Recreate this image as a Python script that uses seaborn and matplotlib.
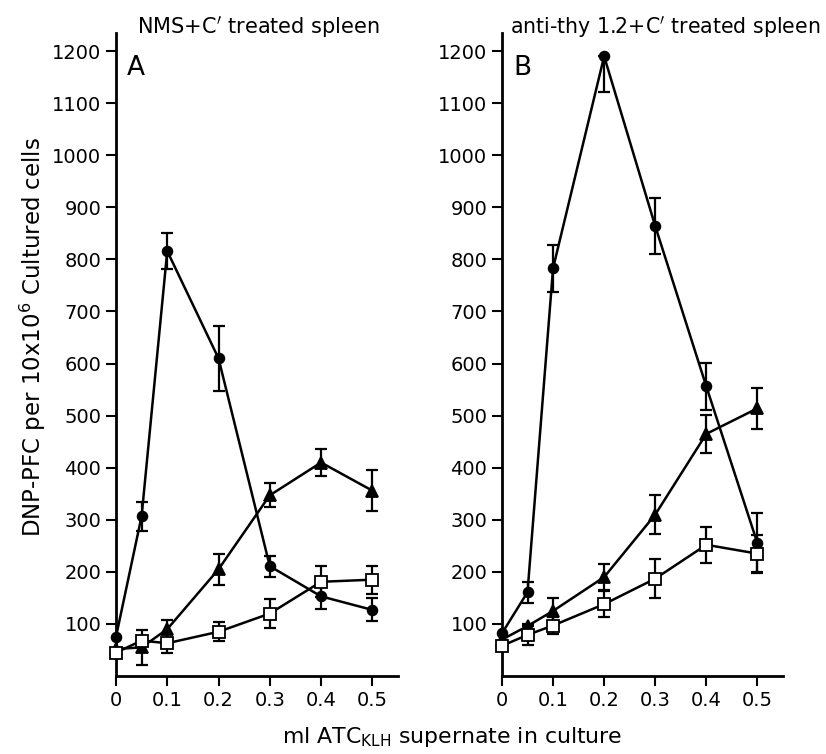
import numpy as np
import pandas as pd
import matplotlib
matplotlib.use("Agg")
import matplotlib.pyplot as plt
import seaborn as sns

sns.set_theme(style="ticks")
plt.rcParams['font.family'] = ['DejaVu Sans']
plt.rcParams['text.color'] = 'black'
plt.rcParams['xtick.color'] = 'black'
plt.rcParams['ytick.color'] = 'black'
plt.rcParams['axes.labelcolor'] = 'black'

x_vals = [0, 0.05, 0.1, 0.2, 0.3, 0.4, 0.5]

# Panel A: NMS + C' treated spleen
a_circle = [75, 307, 816, 610, 211, 153, 127]
a_circle_err = [0, 28, 35, 62, 20, 25, 22]
a_tri = [52, 55, 90, 205, 347, 410, 356]
a_tri_err = [0, 33, 17, 30, 23, 25, 40]
a_sq = [45, 68, 63, 85, 120, 181, 185]
a_sq_err = [0, 0, 18, 18, 28, 30, 27]

# Panel B: anti-thy 1.2 + C' treated spleen
b_circle = [82, 161, 783, 1190, 864, 556, 255]
b_circle_err_lo = [0, 20, 45, 68, 53, 45, 58]
b_circle_err_hi = [0, 20, 45, 0, 53, 45, 58]
b_tri = [70, 96, 125, 190, 310, 465, 514]
b_tri_err = [0, 0, 25, 25, 37, 37, 40]
b_sq = [58, 79, 97, 138, 187, 252, 235]
b_sq_err = [0, 20, 17, 25, 38, 35, 35]

y_ticks = [100, 200, 300, 400, 500, 600, 700, 800, 900, 1000, 1100, 1200]
x_ticks = [0, 0.1, 0.2, 0.3, 0.4, 0.5]
x_ticklabels = ["0", "0.1", "0.2", "0.3", "0.4", "0.5"]

panels = [
    ("A", "NMS+C$'$ treated spleen",
     a_circle, [a_circle_err, a_circle_err], a_tri, [a_tri_err, a_tri_err], a_sq, [a_sq_err, a_sq_err]),
    ("B", "anti-thy 1.2+C$'$ treated spleen",
     b_circle, [b_circle_err_lo, b_circle_err_hi], b_tri, [b_tri_err, b_tri_err], b_sq, [b_sq_err, b_sq_err]),
]

fig = plt.figure(figsize=(8.26, 7.54), dpi=100)
axA = fig.add_axes([0.1404, 0.1034, 0.3414, 0.853])
axB = fig.add_axes([0.6077, 0.1034, 0.3402, 0.853])

styles = [
    dict(marker="o", mfc="black", ms=7),
    dict(marker="^", mfc="black", ms=8),
    dict(marker="s", mfc="white", ms=8),
]

for ax, (letter, title, c, ce, t, te, s, se) in zip([axA, axB], panels):
    for vals, errs, st in zip([c, t, s], [ce, te, se], styles):
        df = pd.DataFrame({"x": x_vals, "y": vals})
        ax.errorbar(x_vals, vals, yerr=errs, fmt="none", ecolor="black",
                    elinewidth=1.6, capsize=4.5, capthick=1.6, zorder=2)
        sns.lineplot(data=df, x="x", y="y", ax=ax, color="black", lw=1.8,
                     marker=st["marker"], markersize=st["ms"],
                     markerfacecolor=st["mfc"], markeredgecolor="black",
                     markeredgewidth=1.3, zorder=3, clip_on=False)
    ax.set_xlim(0, 0.55)
    ax.set_ylim(0, 1235)
    ax.set_yticks(y_ticks)
    ax.set_xticks(x_ticks)
    ax.set_xticklabels(x_ticklabels)
    ax.tick_params(axis="both", direction="out", length=7, width=1.5,
                   labelsize=14, color="black", labelcolor="black")
    for sp in ["top", "right"]:
        ax.spines[sp].set_visible(False)
    for sp in ["left", "bottom"]:
        ax.spines[sp].set_linewidth(2)
        ax.spines[sp].set_color("black")
    ax.set_xlabel("")
    ax.set_ylabel("")
    ax.text(0.04, 0.965, letter, transform=ax.transAxes, fontsize=19,
            va="top", ha="left", color="black")
    ax.grid(False)

fig.text(258 / 826, 1 - 27 / 754, panels[0][1], ha="center", va="center", fontsize=15)
fig.text(665 / 826, 1 - 27 / 754, panels[1][1], ha="center", va="center", fontsize=14.8)
fig.text(33 / 826, 1 - 337 / 754, "DNP-PFC per 10x10$^6$ Cultured cells", rotation=90,
         ha="center", va="center", fontsize=16.5)
fig.text(452 / 826, 1 - 737 / 754, "ml ATC$_{\\mathregular{KLH}}$ supernate in culture",
         ha="center", va="center", fontsize=15.8)

fig.savefig("out.png", dpi=100)
